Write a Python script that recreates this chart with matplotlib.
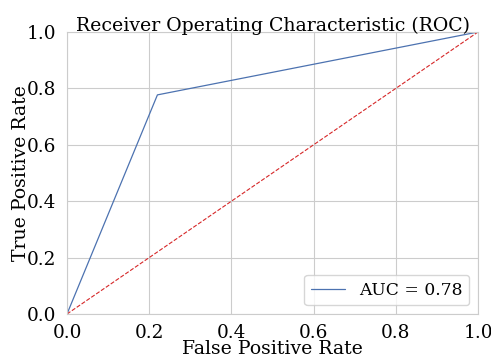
import numpy as np
import matplotlib
matplotlib.use('Agg')
import matplotlib.pyplot as plt
import seaborn as sns

# roc data
fpr = [0.0, 0.22, 1.0]
tpr = [0.0, 0.777, 1.0]
roc_auc = 0.78
diag = [0, 1]

sns.set_style('whitegrid')
plt.rcParams['font.family'] = 'DejaVu Serif'
plt.rcParams['text.color'] = 'black'
plt.rcParams['axes.labelcolor'] = 'black'
plt.rcParams['xtick.color'] = 'black'
plt.rcParams['ytick.color'] = 'black'

fig = plt.figure(figsize=(4.91, 3.57), dpi=100)
ax = fig.add_axes([67/491, 1-314/357, 411/491, 282/357])
ax.plot(fpr, tpr, color='#4c72b0', lw=0.9, label='AUC = %0.2f' % roc_auc)
ax.plot(diag, diag, color='#d62728', ls='--', lw=0.8)
ax.set_xlim(0, 1)
ax.set_ylim(0, 1)
ax.set_title('Receiver Operating Characteristic (ROC)', fontsize=13.6, pad=1)
ax.set_xlabel('False Positive Rate', fontsize=13.6, labelpad=-2)
ax.set_ylabel('True Positive Rate', fontsize=13.6, labelpad=-2)
ax.tick_params(labelsize=13.3, pad=4)
ax.legend(loc='lower right', fontsize=12.3)

plt.savefig('out.png', dpi=100)
